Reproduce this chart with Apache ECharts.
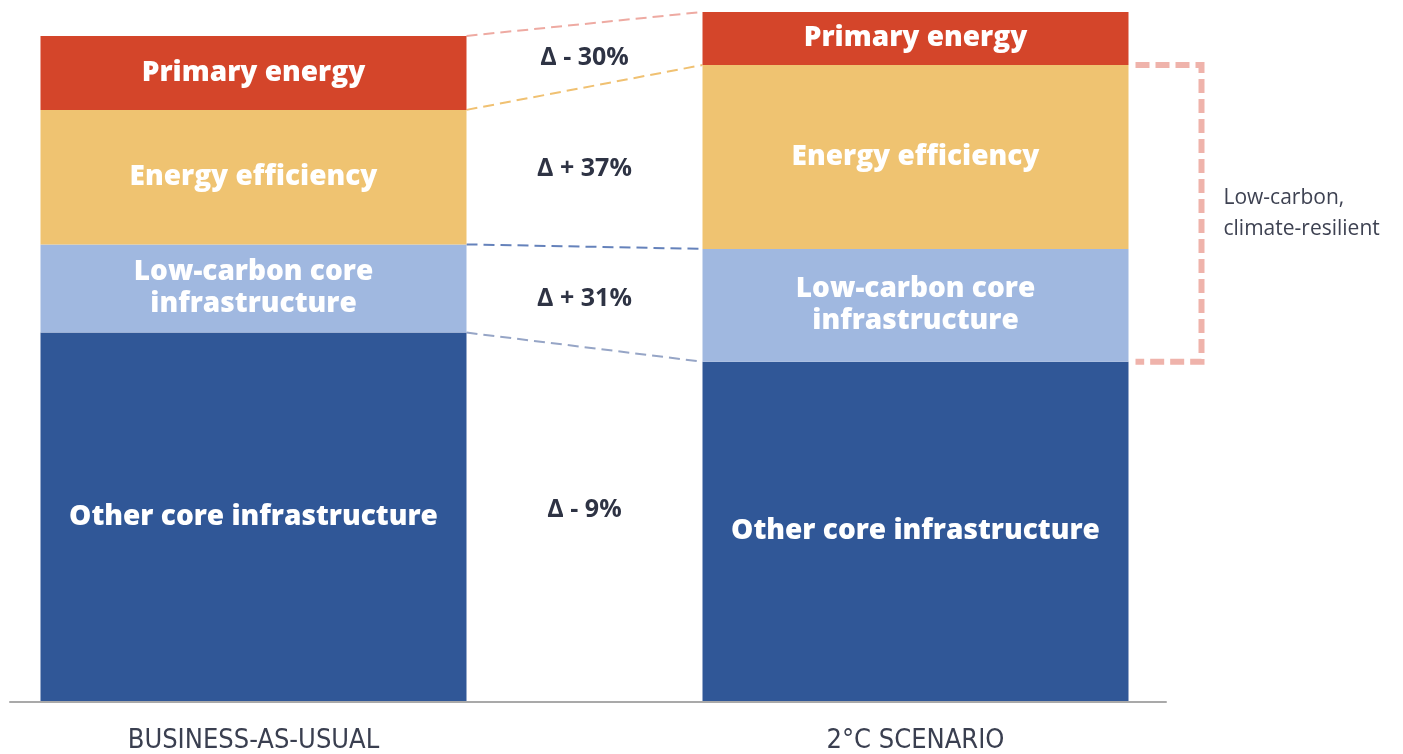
<!DOCTYPE html>
<html>
<head>
<meta charset="utf-8">
<script src="https://cdn.jsdelivr.net/npm/echarts@6/dist/echarts.min.js"></script>
<style>
  html, body { margin: 0; padding: 0; background: #fff; }
  #chart { width: 1403px; height: 754px; }
</style>
</head>
<body>
<div id="chart"></div>
<script>
// data (USD trillion)
var categories = ['BUSINESS-AS-USUAL', '2°C SCENARIO'];
var segmentNames = ['Other core infrastructure', 'Low-carbon core infrastructure', 'Energy efficiency', 'Primary energy'];
var segmentLabels = ['Other core infrastructure', 'Low-carbon core\ninfrastructure', 'Energy efficiency', 'Primary energy'];
var otherCore = [49.3, 45.4];
var lowCarbonCore = [11.8, 15.1];
var energyEfficiency = [18.0, 24.6];
var primaryEnergy = [9.9, 7.1];
var deltaLabels = ['Δ - 9%', 'Δ + 31%', 'Δ + 37%', 'Δ - 30%'];
var bracketLabel = 'Low-carbon,\nclimate-resilient';

var segColors = ['#305797', '#a0b8e0', '#efc371', '#d4452a'];
var connectorColors = ['#96a5c6', '#6582bb', '#f0c172', '#eeaaa2'];
var BAR_W = 426;

var segData = [otherCore, lowCarbonCore, energyEfficiency, primaryEnergy];
// cumulative tops of each segment for both bars
var cum = segData.map(function (s, k) {
  return [0, 1].map(function (b) {
    var t = 0;
    for (var j = 0; j <= k; j++) t += segData[j][b];
    return t;
  });
});

var chart = echarts.init(document.getElementById('chart'));

function connectorItem(params, api) {
  var k = params.dataIndex;
  var bottom = k === 0 ? [0, 0] : cum[k - 1];
  var top = cum[k];
  var lt = api.coord([0, top[0]]);
  var rt = api.coord([1, top[1]]);
  var lb = api.coord([0, bottom[0]]);
  var rb = api.coord([1, bottom[1]]);
  var x0 = lt[0] + BAR_W / 2;
  var x1 = rt[0] - BAR_W / 2;
  var midY = ((lt[1] + lb[1]) / 2 + (rt[1] + rb[1]) / 2) / 2;
  return {
    type: 'group',
    children: [{
      type: 'line',
      shape: { x1: x0, y1: lt[1], x2: x1, y2: rt[1] },
      style: { stroke: connectorColors[k], lineWidth: 2, lineDash: [11, 6] }
    }, {
      type: 'text',
      style: {
        text: deltaLabels[k],
        x: (x0 + x1) / 2,
        y: (k === 0 ? midY - 16 : midY) + 2,
        align: 'center',
        verticalAlign: 'middle',
        font: 'bold 25px "Open Sans", sans-serif',
        fill: '#2e3344'
      }
    }]
  };
}

function bracketItem(params, api) {
  var top = api.coord([1, cum[2][1]]);
  var bottom = api.coord([1, cum[0][1]]);
  var x0 = top[0] + BAR_W / 2 + 7;
  var x1 = x0 + 66;
  return {
    type: 'group',
    children: [{
      type: 'polyline',
      shape: { points: [[x0, top[1]], [x1, top[1]], [x1, bottom[1]], [x0, bottom[1]]] },
      style: { stroke: '#efb3ab', fill: null, lineWidth: 6, lineDash: [14, 6] }
    }, {
      type: 'text',
      style: {
        text: bracketLabel,
        x: x1 + 22,
        y: (top[1] + bottom[1]) / 2,
        align: 'left',
        verticalAlign: 'middle',
        font: '21px "Open Sans", sans-serif',
        lineHeight: 31,
        fill: '#3e4252'
      }
    }]
  };
}

var series = segmentNames.map(function (name, k) {
  return {
    name: name,
    type: 'bar',
    stack: 'total',
    barWidth: BAR_W,
    clip: false,
    itemStyle: { color: segColors[k] },
    label: {
      show: true,
      position: 'inside',
      formatter: segmentLabels[k],
      color: '#fff',
      fontSize: 28,
      fontWeight: 800,
      fontFamily: 'Open Sans',
      lineHeight: 32
    },
    data: segData[k]
  };
});
series.push({
  type: 'custom',
  renderItem: connectorItem,
  clip: false,
  silent: true,
  data: deltaLabels.map(function () { return [0, 0]; })
});
series.push({
  type: 'custom',
  renderItem: bracketItem,
  clip: false,
  silent: true,
  data: [[0, 0]]
});

var Option = {
  animation: false,
  grid: [{
    left: 253.5,
    right: 487.5,
    top: 6,
    bottom: 52
  }, {
    left: 10,
    right: 237,
    top: 6,
    bottom: 52
  }],
  xAxis: [{
    type: 'category',
    gridIndex: 0,
    boundaryGap: false,
    data: categories,
    axisLine: { show: false },
    axisTick: { show: false },
    axisLabel: {
      margin: 26,
      fontSize: 27,
      color: '#3a3f50',
      fontFamily: '"Liberation Sans Narrow", "DejaVu Sans Condensed", sans-serif'
    }
  }, {
    type: 'category',
    gridIndex: 1,
    data: [''],
    axisLine: { show: true, onZero: false, lineStyle: { color: '#a9a9a9', width: 2 } },
    axisTick: { show: false },
    axisLabel: { show: false }
  }],
  yAxis: [{
    type: 'value',
    gridIndex: 0,
    min: 0,
    max: 93,
    show: false
  }, {
    type: 'value',
    gridIndex: 1,
    min: 0,
    max: 1,
    show: false
  }],
  series: series
};
chart.setOption(Option, true);
</script>
</body>
</html>
